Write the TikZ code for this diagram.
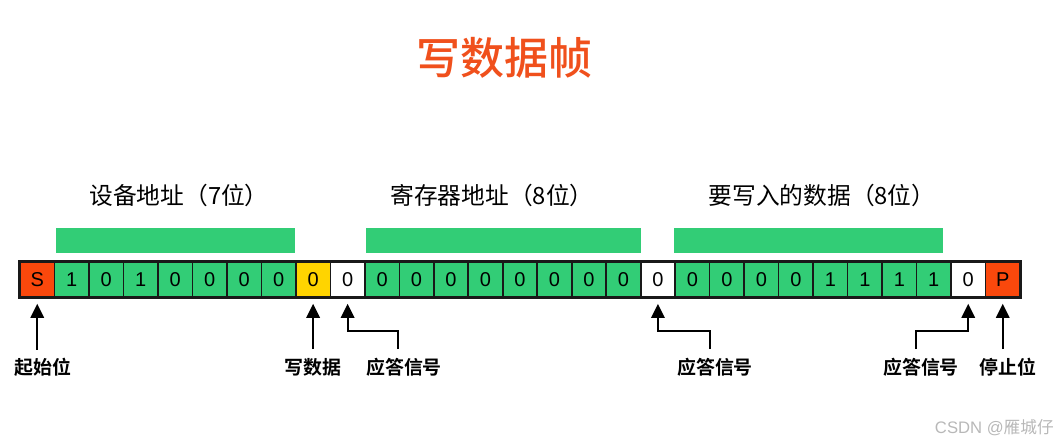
\documentclass[tikz,border=0pt]{standalone}
\usepackage{fontspec}
\setmainfont{Liberation Sans}
\newfontfamily\cjk{Noto Sans CJK SC}
\newfontfamily\cjkb{Noto Sans CJK SC Bold}
\newfontfamily\cjkm{Noto Sans CJK SC Medium}
\usetikzlibrary{arrows.meta,calc}
\definecolor{cred}{RGB}{250,72,12}
\definecolor{cgreen}{RGB}{50,205,118}
\definecolor{cyellow}{RGB}{255,212,0}
\definecolor{ctitle}{RGB}{240,80,28}
\definecolor{cline}{RGB}{25,25,25}
\tikzset{
  bitcell/.style={draw=cline, line width=1.2pt, minimum width=25.86pt, minimum height=26.25pt, inner sep=0pt, font=\fontsize{15}{15}\selectfont},
  fieldbar/.style={fill=cgreen, draw=none},
  fieldlbl/.style={font=\cjk\fontsize{17.8}{17.8}\selectfont, inner sep=0pt},
  ptrlbl/.style={font=\cjkb\fontsize{14.2}{14.2}\selectfont, inner sep=0pt},
  arr/.style={draw=black, line width=1.5pt, -{Triangle[length=10.5pt,width=10pt]}, shorten >=4.5pt},
}
\begin{document}
\begin{tikzpicture}[x=0.75pt,y=-0.75pt]
\useasboundingbox (0,0) rectangle (1059,445);
% title
\node[font=\cjkm\fontsize{33}{33}\selectfont, text=ctitle, inner sep=0pt] (title) at (504,58) {写数据帧};
% field labels
\node[fieldlbl] (f1) at (179,195) {设备地址（7位）};
\node[fieldlbl] (f2) at (492,195) {寄存器地址（8位）};
\node[fieldlbl] (f3) at (822,195) {要写入的数据（8位）};
% green bars
\path[fieldbar] (55.7,228) rectangle (295,253);
\path[fieldbar] (366,228) rectangle (641,253);
\path[fieldbar] (673.5,228) rectangle (943,253);
% cells
\foreach \i/\c/\t in {0/cred/S,1/cgreen/1,2/cgreen/0,3/cgreen/1,4/cgreen/0,5/cgreen/0,6/cgreen/0,7/cgreen/0,8/cyellow/0,9/white/0,
  10/cgreen/0,11/cgreen/0,12/cgreen/0,13/cgreen/0,14/cgreen/0,15/cgreen/0,16/cgreen/0,17/cgreen/0,18/white/0,
  19/cgreen/0,20/cgreen/0,21/cgreen/0,22/cgreen/0,23/cgreen/1,24/cgreen/1,25/cgreen/1,26/cgreen/1,27/white/0,28/cred/P}
  {\node[bitcell, fill=\c] (c\i) at ({20+(\i+0.5)*34.4828},279.5) {\t};}
\draw[cline, line width=1.8pt] (c0.north west) rectangle (c28.south east);
% pointer labels
\node[ptrlbl] (l0) at (42.6,367) {起始位};
\node[ptrlbl] (l8) at (312.6,367) {写数据};
\node[ptrlbl] (l9) at (404,367) {应答信号};
\node[ptrlbl] (l18) at (715,367) {应答信号};
\node[ptrlbl] (l27) at (921,367) {应答信号};
\node[ptrlbl] (l28) at (1008,367) {停止位};
% arrows
\coordinate (b0) at (37.3,349);
\draw[arr] (b0) -- (c0.south |- b0) -- (c0.south);
\draw[arr] (c8.south |- b0) -- (c8.south);
\coordinate (k9) at (398.3,349);
\coordinate (e9) at (347.7,331);
\draw[arr] (k9) |- (c9.south |- e9) -- (c9.south);
\coordinate (k18) at (710,349);
\draw[arr] (k18) |- (c18.south |- e9) -- (c18.south);
\coordinate (k27) at (916,349);
\draw[arr] (k27) |- (c27.south |- e9) -- (c27.south);
\draw[arr] (c28.south |- b0) -- (c28.south);
% watermark
\node[font=\fontsize{12.5}{12.5}\selectfont, text=black!28, inner sep=0pt, anchor=east] (wm) at (1054,428) {CSDN @{\cjk 雁城仔}};
\end{tikzpicture}
\end{document}
